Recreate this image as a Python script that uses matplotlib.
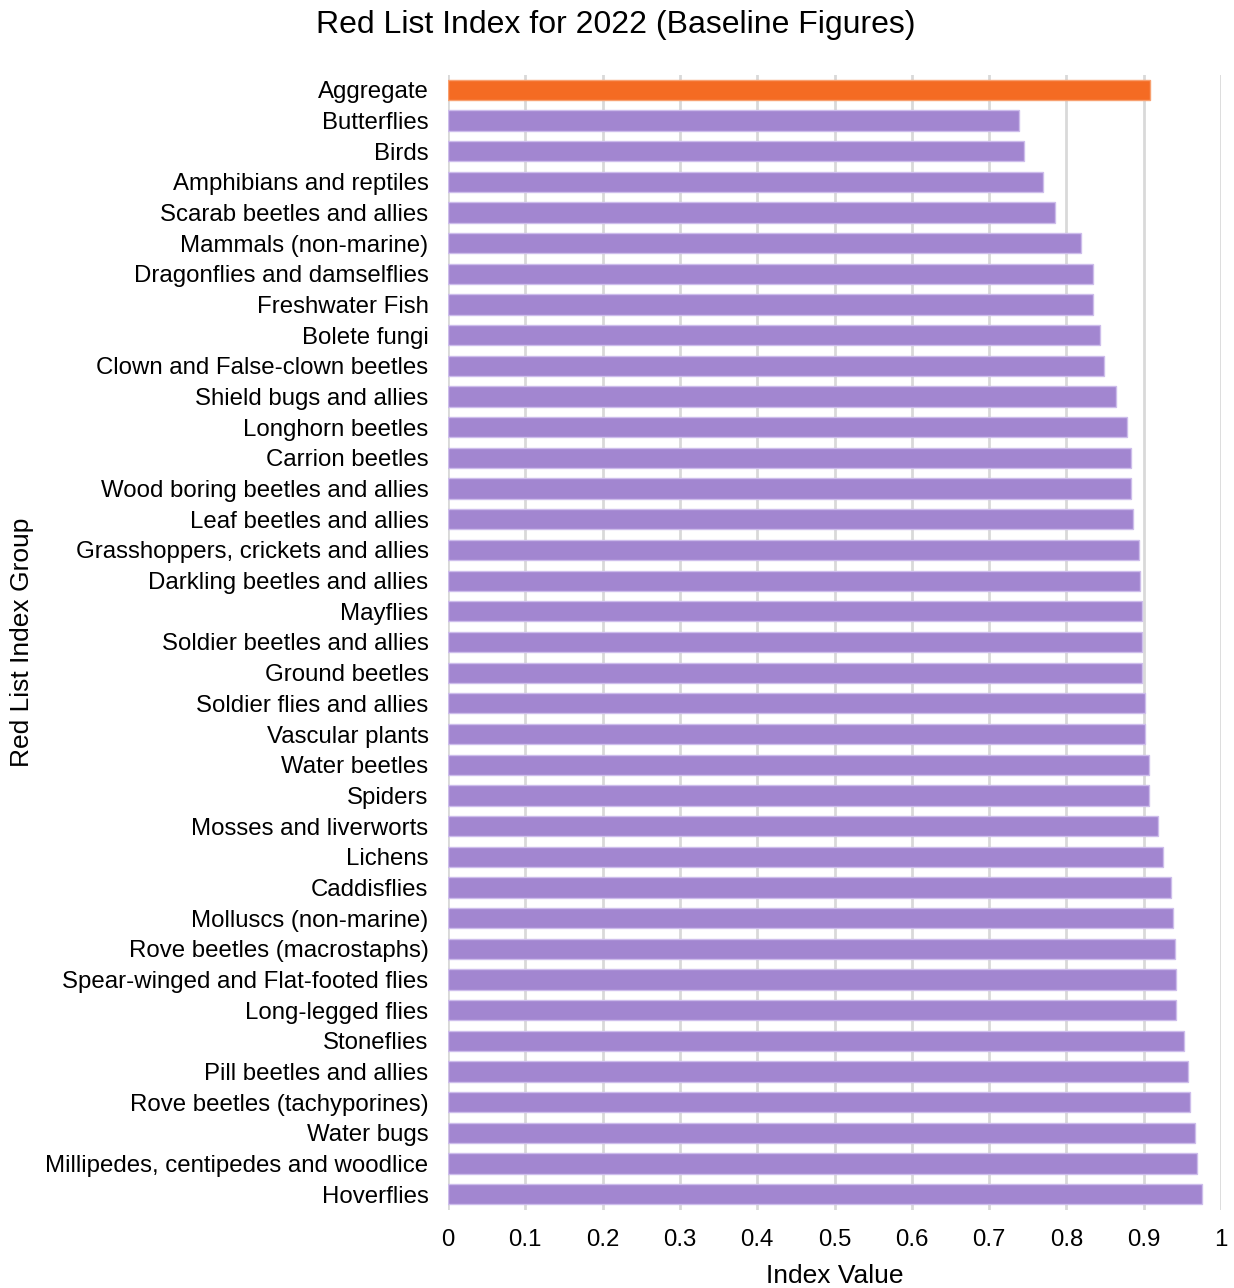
import matplotlib
matplotlib.use("Agg")
import matplotlib.pyplot as plt

plt.rcParams['font.family'] = ['Liberation Sans', 'DejaVu Sans']

groups = [
    "Aggregate", "Butterflies", "Birds", "Amphibians and reptiles",
    "Scarab beetles and allies", "Mammals (non-marine)",
    "Dragonflies and damselflies", "Freshwater Fish", "Bolete fungi",
    "Clown and False-clown beetles", "Shield bugs and allies",
    "Longhorn beetles", "Carrion beetles", "Wood boring beetles and allies",
    "Leaf beetles and allies", "Grasshoppers, crickets and allies",
    "Darkling beetles and allies", "Mayflies", "Soldier beetles and allies",
    "Ground beetles", "Soldier flies and allies", "Vascular plants",
    "Water beetles", "Spiders", "Mosses and liverworts", "Lichens",
    "Caddisflies", "Molluscs (non-marine)", "Rove beetles (macrostaphs)",
    "Spear-winged and Flat-footed flies", "Long-legged flies", "Stoneflies",
    "Pill beetles and allies", "Rove beetles (tachyporines)", "Water bugs",
    "Millipedes, centipedes and woodlice", "Hoverflies",
]
index_values = [
    0.908, 0.739, 0.745, 0.770,
    0.785, 0.819,
    0.835, 0.835, 0.843,
    0.848, 0.864,
    0.878, 0.884, 0.884,
    0.886, 0.894,
    0.895, 0.898, 0.898,
    0.898, 0.902, 0.902,
    0.907, 0.907, 0.919, 0.925,
    0.935, 0.938, 0.941,
    0.942, 0.942, 0.952,
    0.957, 0.960, 0.966,
    0.969, 0.975,
]
x_ticks = [0, 0.1, 0.2, 0.3, 0.4, 0.5, 0.6, 0.7, 0.8, 0.9, 1]
x_tick_labels = ["0", "0.1", "0.2", "0.3", "0.4", "0.5", "0.6", "0.7", "0.8", "0.9", "1"]

purple = "#A286D0"
orange = "#F46B23"
colors = [orange] + [purple] * (len(groups) - 1)
edges = ["#F8A070"] + ["#CDBDEB"] * (len(groups) - 1)

fig = plt.figure(figsize=(12.34, 12.88), dpi=100)
ax = fig.add_axes([448 / 1234, 1 - 1209.5 / 1288, (1221 - 448) / 1234, (1209.5 - 74.5) / 1288])

ypos = list(range(len(groups)))
ax.barh(ypos, index_values, height=0.66, color=colors, edgecolor=edges,
        linewidth=1.0, zorder=3)

ax.set_ylim(len(groups) - 0.5, -0.5)
ax.set_xlim(0, 1)
ax.set_yticks(ypos)
ax.set_yticklabels(groups, fontsize=17.3)
ax.set_xticks(x_ticks)
ax.set_xticklabels(x_tick_labels, fontsize=17.3)
ax.tick_params(axis='y', length=0, pad=14)
ax.tick_params(axis='x', length=0, pad=14)

ax.grid(axis='x', color="#D9D9D9", linewidth=2, zorder=0)
ax.grid(axis='y', visible=False)
for s in ax.spines.values():
    s.set_visible(False)

fig.text(835 / 1234, 1 - 1276 / 1288, "Index Value", ha='center', va='center',
         fontsize=19)
fig.text(22 / 1234, 1 - 642 / 1288, "Red List Index Group", ha='center',
         va='center', rotation=90, fontsize=19)
fig.text(616 / 1234, 1 - 25 / 1288, "Red List Index for 2022 (Baseline Figures)",
         ha='center', va='center', fontsize=23)

fig.savefig("out.png", dpi=100)
